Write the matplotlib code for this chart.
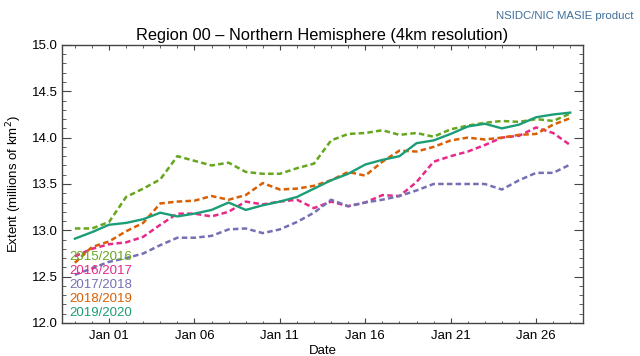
import matplotlib
matplotlib.use("Agg")
import matplotlib.pyplot as plt
import matplotlib.dates as mdates
from matplotlib.ticker import MultipleLocator
import numpy as np

plt.rcParams['font.family'] = ['Liberation Sans', 'DejaVu Sans']

# daily extent, 30 Dec .. 28 Jan (millions of km^2)
dates = np.arange(np.datetime64('2019-12-30'), np.datetime64('2020-01-29'))

ext_2015 = [13.02, 13.02, 13.09, 13.36, 13.45, 13.55, 13.80, 13.75, 13.70, 13.73,
            13.63, 13.61, 13.61, 13.67, 13.72, 13.97, 14.04, 14.05, 14.08, 14.03,
            14.05, 14.01, 14.09, 14.13, 14.16, 14.18, 14.17, 14.20, 14.18, 14.26]
ext_2016 = [12.72, 12.80, 12.85, 12.87, 12.93, 13.06, 13.18, 13.18, 13.15, 13.20,
            13.31, 13.28, 13.31, 13.33, 13.24, 13.31, 13.26, 13.30, 13.38, 13.37,
            13.52, 13.74, 13.80, 13.85, 13.92, 14.00, 14.02, 14.11, 14.05, 13.92]
ext_2017 = [12.52, 12.59, 12.66, 12.70, 12.75, 12.84, 12.92, 12.92, 12.94, 13.01,
            13.02, 12.97, 13.01, 13.09, 13.19, 13.33, 13.26, 13.30, 13.33, 13.37,
            13.43, 13.50, 13.50, 13.50, 13.50, 13.44, 13.54, 13.62, 13.62, 13.71]
ext_2018 = [12.65, 12.82, 12.88, 12.99, 13.08, 13.29, 13.31, 13.32, 13.37, 13.33,
            13.38, 13.51, 13.44, 13.45, 13.48, 13.54, 13.63, 13.59, 13.74, 13.86,
            13.85, 13.90, 13.97, 14.00, 13.98, 14.00, 14.03, 14.04, 14.14, 14.21]
ext_2019 = [12.91, 12.98, 13.06, 13.08, 13.12, 13.19, 13.15, 13.18, 13.22, 13.30,
            13.22, 13.27, 13.31, 13.36, 13.45, 13.54, 13.61, 13.71, 13.76, 13.80,
            13.94, 13.97, 14.04, 14.12, 14.15, 14.10, 14.14, 14.22, 14.25, 14.27]

seasons = ["2015/2016", "2016/2017", "2017/2018", "2018/2019", "2019/2020"]
series = [ext_2015, ext_2016, ext_2017, ext_2018, ext_2019]
colors = ["#66a61e", "#e7298a", "#7570b3", "#d95f02", "#1b9e77"]

fig = plt.figure(figsize=(6.4, 3.56), dpi=100)
ax = fig.add_axes([0.097, 0.0927, 0.814, 0.781])

for name, vals, col in zip(seasons, series, colors):
    if name == "2019/2020":
        ax.plot(dates, vals, color=col, lw=1.7, zorder=5)
    else:
        ax.plot(dates, vals, color=col, lw=1.8, linestyle=(0, (2.2, 1.3)))

# season labels in the lower left, coloured like the lines
for i, (name, col) in enumerate(zip(seasons, colors)):
    ax.text(0.013, 0.239 - 0.0505 * i, name, color=col, fontsize=9.5,
            transform=ax.transAxes, va="center", ha="left", zorder=6)

ax.set_ylim(12.0, 15.0)
ax.set_xlim(np.datetime64('2019-12-29T06'), np.datetime64('2020-01-28T18'))
ax.yaxis.set_major_locator(MultipleLocator(0.5))
ax.yaxis.set_minor_locator(MultipleLocator(0.1))
ax.yaxis.set_major_formatter(plt.FormatStrFormatter('%.1f'))
ax.xaxis.set_major_locator(mdates.DayLocator(bymonthday=[1, 6, 11, 16, 21, 26]))
ax.xaxis.set_minor_locator(mdates.DayLocator())
ax.xaxis.set_major_formatter(mdates.DateFormatter('%b %d'))

axis_col = "#444444"
for sp in ax.spines.values():
    sp.set_color(axis_col)
    sp.set_linewidth(1.0)
ax.tick_params(axis="y", which="both", direction="in", left=True, right=True,
               color=axis_col, labelsize=9.5, pad=3)
ax.tick_params(axis="y", which="major", length=6.5)
ax.tick_params(axis="y", which="minor", length=3.2)
ax.tick_params(axis="x", which="both", direction="in", bottom=True, top=True,
               color=axis_col, labelsize=9.5, pad=5)
ax.tick_params(axis="x", which="major", length=3.6)
ax.tick_params(axis="x", which="minor", length=1.8)

ax.set_xlabel("Date", fontsize=9.5, labelpad=2)
ax.set_ylabel("Extent (millions of km$^2$)", fontsize=9.5, labelpad=6)

fig.text(0.503, 0.888, "Region 00 \u2013 Northern Hemisphere (4km resolution)",
         ha="center", va="baseline", fontsize=11.8)
fig.text(0.99, 0.955, "NSIDC/NIC MASIE product", ha="right", va="center",
         fontsize=8.2, color="#3d6f9a")

fig.savefig("out.png", dpi=100)
